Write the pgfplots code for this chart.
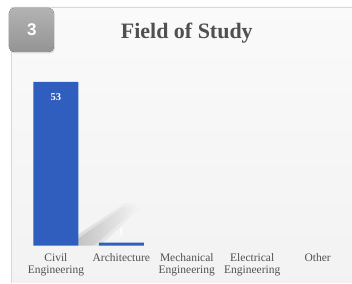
\documentclass[border=0pt]{standalone}
\usepackage{pgfplots}
\pgfplotsset{compat=1.18}
\usepackage{fontspec}
\setmainfont{Liberation Serif}
\newfontfamily\sansbadge{Liberation Sans}
\usetikzlibrary{fadings,shadows}
\definecolor{barblue}{RGB}{47,94,190}
\definecolor{txtgray}{RGB}{80,80,80}
\begin{document}
\begin{tikzpicture}[x=1pt,y=1pt]
% canvas
\fill[white] (0,0) rectangle (352,283);
% panel
\shade[top color=white!98!black, middle color=white!87!black, bottom color=white!95!black] (11,0) rectangle (352,276);
\draw[white!85!black, line width=0.8pt] (11,0) -- (11,276) -- (352,276);
% badge
\fill[rounded corners=5pt, top color=white!70!black, bottom color=white!58!black, drop shadow={opacity=0.25,shadow xshift=1pt,shadow yshift=-1.5pt}] (9,231) rectangle (54,275);
\node[text=white, font=\sansbadge\bfseries\fontsize{17}{20}\selectfont] at (32,253) {3};
% title
\node[text=txtgray, font=\bfseries\fontsize{22}{26}\selectfont] at (187,250) {Field of Study};
% soft shadow of bar
\fill[black, opacity=0.10, path fading=east] (78,37) -- (78,48) -- (126,80) -- (142,76) -- (100,37) -- cycle;
\fill[black, opacity=0.10, path fading=east] (78,37) -- (78,44) -- (124,76) -- (136,74) -- (94,37) -- cycle;
\begin{axis}[
  scale only axis,
  width=327.5pt, height=164pt,
  at={(23.25pt,37pt)}, anchor=south west,
  xmin=-0.5, xmax=4.5, ymin=0, ymax=53,
  hide y axis,
  axis x line*=bottom,
  x axis line style={draw=none},
  clip=false,
  xtick={0,1,2,3,4},
  xticklabels={{Civil\\Engineering},{Architecture},{Mechanical\\Engineering},{Electrical\\Engineering},{Other}},
  xtick style={draw=none},
  x tick label style={text=txtgray, align=center, font=\fontsize{11.5}{12.5}\selectfont, anchor=north, yshift=-4pt},
]
\addplot[ybar, bar width=45pt, fill=barblue, draw=none] coordinates {(0,53) (1,1)};
\addplot[draw=none, mark=none, nodes near coords, point meta=explicit symbolic,
  every node near coord/.append style={text=white, font=\bfseries\fontsize{10.5}{12}\selectfont, anchor=center}]
  coordinates {(0,48.2)[53] (1,4.3)[1]};
\addplot[draw=none, mark=none, nodes near coords, point meta=explicit symbolic,
  every node near coord/.append style={text=white!92!gray, font=\bfseries\fontsize{9}{11}\selectfont, anchor=center}]
  coordinates {(2,4.5)[0] (3,4.5)[0] (4,4.5)[0]};
\end{axis}
\end{tikzpicture}
\end{document}
